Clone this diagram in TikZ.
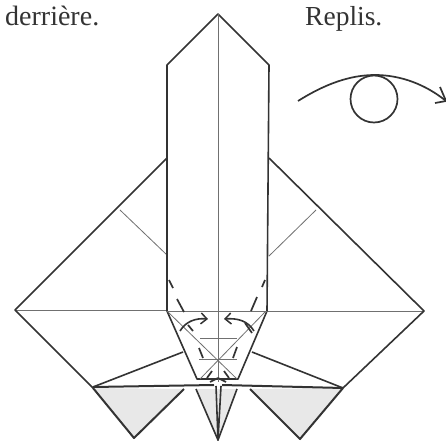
\documentclass[tikz,border=0pt]{standalone}
\usepackage{fontspec}
\setmainfont{Liberation Serif}
\usetikzlibrary{arrows.meta}
\definecolor{ink}{gray}{0.2}
\definecolor{flap}{gray}{0.91}
\tikzset{
  edge/.style={draw=ink,line width=1.6pt,line join=round},
  thick edge/.style={draw=ink,line width=2pt,line join=round},
  crease/.style={draw=ink!70,line width=0.8pt},
  foldmark/.style={draw=ink,line width=1.7pt},
  curl/.style={draw=ink,line width=1.6pt,-{Straight Barb[length=6pt,width=11pt,line width=1.5pt]}},
  caption/.style={text=ink,inner sep=0pt,anchor=base west},
}
\begin{document}
\begin{tikzpicture}[x=1pt,y=-1pt]
\useasboundingbox (0,0) rectangle (446,441);
\fill[white] (0,0) rectangle (446,441);
% shaded flaps
\fill[flap] (93,388) -- (184,389) -- (134,438) -- cycle;
\fill[flap] (196,389) -- (237,389) -- (218,440) -- cycle;
\fill[flap] (250,389) -- (343,388) -- (300,439) -- cycle;
% creases on the square
\draw[crease] (15,310) -- (167,310);
\draw[crease] (268,311) -- (424,311);
\draw[crease] (120,210) -- (167,255);
\draw[crease] (316,210) -- (269,256);
% square edges
\draw[edge] (167,158) -- (15,310) -- (93,388);
\draw[edge] (269,158) -- (424,311) -- (343,388);
\draw[thick edge] (93,388) -- (134,438) -- (184,389);
\draw[thick edge] (343,388) -- (300,439) -- (250,389);
% flaps
\draw[edge] (93,387) -- (183,352);
\draw[edge] (343,388) -- (252,352);
\draw[thick edge] (93,387) -- (214,385);
\draw[thick edge] (343,388) -- (222,385);
\draw[edge] (196,389) -- (218,440) -- (237,389);
\draw[edge] (216,386) -- (218,440) -- (221,386);
% column
\draw[edge] (167,311) -- (167,65) -- (218,14) -- (269,65) -- (267,311) -- (238,379) -- (197,379) -- cycle;
% inner creases
\draw[crease] (218,14) -- (218,382);
\draw[crease] (167,311) -- (267,311);
\draw[crease] (168,312) -- (237,379);
\draw[crease] (265,312) -- (200,379);
\draw[crease] (200,338) -- (237,338);
\draw[crease] (199,359) -- (237,359);
% dashes
\draw[foldmark] (169,280) -- (173,288);
\draw[foldmark] (177,299) -- (184,312);
\draw[foldmark] (265,280) -- (262,287);
\draw[foldmark] (257,297) -- (251,311);
\draw[foldmark] (188,325) -- (193,331);
\draw[foldmark] (252,333) -- (245,323);
\draw[foldmark] (199,348) -- (203,358);
\draw[foldmark] (237,347) -- (233,358);
\draw[foldmark] (207,378) -- (212,371);
\draw[foldmark] (229,378) -- (224,371);
\draw[edge] (210,382) -- (218,378) -- (226,382);
% arrows
\draw[curl] (180,331) .. controls (186,321) and (196,318) .. (208,319);
\draw[curl] (254,331) .. controls (248,321) and (238,318) .. (224,319);
% roll-over symbol
\coordinate (rollstart) at (298,101);
\coordinate (rollend) at (446,101);
\node[draw=ink,line width=1.7pt,circle,minimum size=47pt,inner sep=0pt] (turn) at (374,99) {};
\draw[draw=ink,line width=1.7pt] (rollstart) .. controls (325,84) and (350,75) .. (375,75) .. controls (400,75) and (425,84) .. (rollend);
\draw[draw=ink,line width=1.7pt] (440,87) -- (rollend) -- (435,103);
% captions
\node[caption,font=\fontsize{28}{28}\selectfont] (derriere) at (5,26) {derrière.};
\node[caption,font=\fontsize{27.5}{28}\selectfont] (replis) at (305,26) {Replis.};
\end{tikzpicture}
\end{document}
